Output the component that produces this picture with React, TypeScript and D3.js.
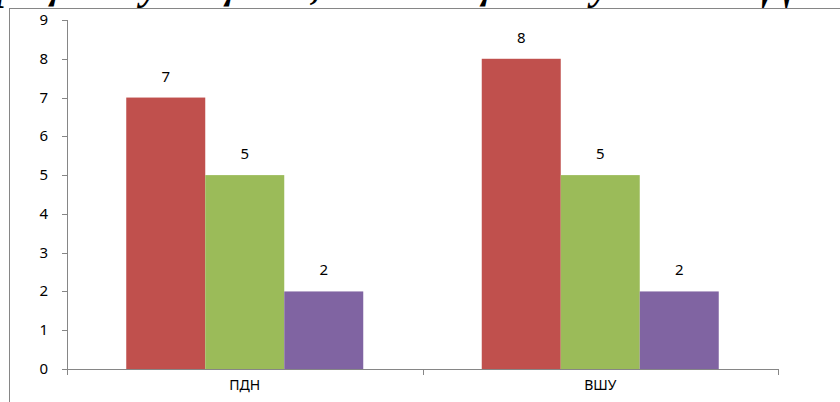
import React from 'react';
import * as d3 from 'd3';

const categories = ['ПДН', 'ВШУ'];
const seriesNames = ['s1', 's2', 's3'];
const seriesColors = ['#C0504D', '#9BBB59', '#8064A2'];
// values per category, one array per series
const series1 = [7, 8];
const series2 = [5, 5];
const series3 = [2, 2];
const yTicks = [0, 1, 2, 3, 4, 5, 6, 7, 8, 9];
const titlePrefix = 'в процессе';
const titleText = 'учащиеся, состоящие на учете в ПДН и ВШУ';

const W = 840;
const H = 402;
const plot = { left: 67, right: 778, top: 20, bottom: 369 };
const axisColor = '#868686';
const font = '"Noto Sans", "Open Sans", sans-serif';
const serif = '"Liberation Serif", "DejaVu Serif", serif';

const App: React.FC = () => {
  const values = [series1, series2, series3];

  const x0 = d3.scaleBand<string>().domain(categories).range([plot.left, plot.right]).paddingInner(0).paddingOuter(0);
  const bandInner = x0.bandwidth();
  // Excel gap width 150%: 3 bars + 0.75 bar on each side
  const barW = bandInner / 4.5;
  const x1 = d3.scaleBand<string>().domain(seriesNames).range([0, barW * 3]);
  const y = d3.scaleLinear().domain([0, 9]).range([plot.bottom, plot.top]);

  const catTicks = [plot.left, ...categories.map(c => (x0(c) || 0) + bandInner)];

  return (
    <div style={{ position: 'fixed', left: 0, top: 0, width: W, height: H, background: '#fff' }}>
      <svg width={W} height={H} style={{ display: 'block' }}>
        <rect x={0} y={0} width={W} height={H} fill="#fff" />
        <text x={128} y={-1} textAnchor="end" fontFamily={serif} fontStyle="italic" fontWeight="bold" fontSize={40} fill="#000">
          {titlePrefix}
        </text>
        <text x={141} y={-1} fontFamily={serif} fontStyle="italic" fontWeight="bold" fontSize={40} fill="#000">
          {titleText}
        </text>
        {/* chart frame */}
        <rect x={9.5} y={8.5} width={W + 10} height={H + 10} fill="#fff" stroke={axisColor} strokeWidth={1} />

        {/* bars */}
        {categories.map((c, ci) => (
          <g key={c} transform={`translate(${(x0(c) || 0) + barW * 0.75},0)`}>
            {seriesNames.map((s, si) => {
              const v = values[si][ci];
              const bx = x1(s) || 0;
              return (
                <g key={s}>
                  <rect x={bx} y={y(v)} width={x1.bandwidth()} height={plot.bottom - y(v)} fill={seriesColors[si]} />
                  <text x={bx + x1.bandwidth() / 2} y={y(v) - 16} textAnchor="middle" fontFamily={font} fontSize={15} fill="#000">
                    {v}
                  </text>
                </g>
              );
            })}
          </g>
        ))}

        {/* y axis */}
        <line x1={plot.left + 0.5} x2={plot.left + 0.5} y1={plot.top} y2={plot.bottom + 6} stroke={axisColor} />
        {yTicks.map(t => (
          <g key={t}>
            <line x1={plot.left - 5} x2={plot.left} y1={Math.round(y(t)) + 0.5} y2={Math.round(y(t)) + 0.5} stroke={axisColor} />
            <text x={48} y={y(t) + 5} textAnchor="end" fontFamily={font} fontSize={15} fill="#000">
              {t}
            </text>
          </g>
        ))}

        {/* x axis */}
        <line x1={plot.left} x2={plot.right} y1={plot.bottom + 0.5} y2={plot.bottom + 0.5} stroke={axisColor} />
        {catTicks.map((t, i) => (
          <line key={i} x1={Math.round(t) + 0.5} x2={Math.round(t) + 0.5} y1={plot.bottom} y2={plot.bottom + 6} stroke={axisColor} />
        ))}
        {categories.map(c => (
          <text key={c} x={(x0(c) || 0) + bandInner / 2} y={390} textAnchor="middle" fontFamily={font} fontSize={14} fill="#000">
            {c}
          </text>
        ))}
      </svg>
    </div>
  );
};

export default App;
